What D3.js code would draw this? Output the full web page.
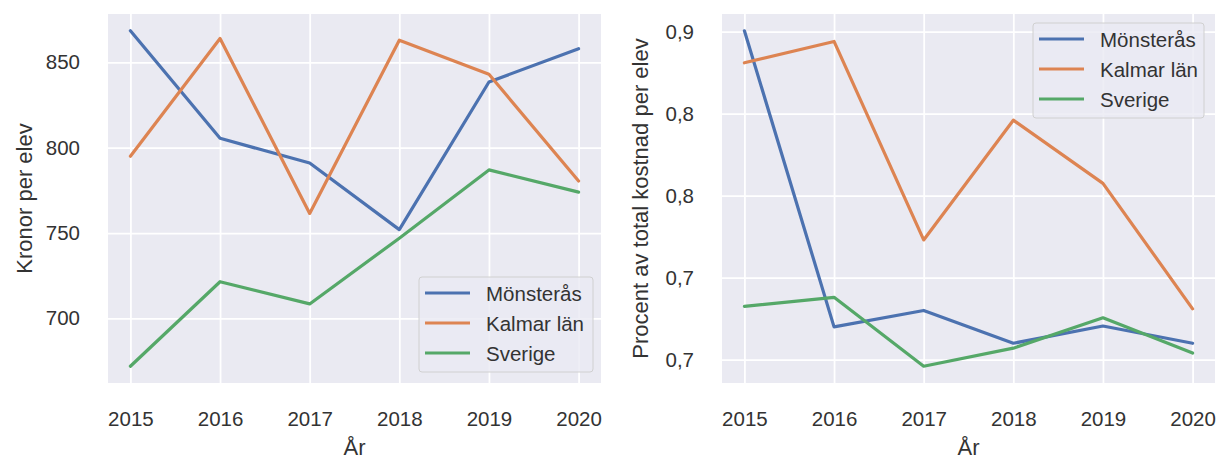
<!DOCTYPE html>
<html>
<head>
<meta charset="utf-8">
<script src="https://cdn.jsdelivr.net/npm/d3@7"></script>
<style>
  body { margin: 0; background: #fff; }
  text { font-family: "Liberation Sans", Arial, sans-serif; fill: #333; }
</style>
</head>
<body>
<div id="chart"></div>
<script>
// data
var years = [2015, 2016, 2017, 2018, 2019, 2020];
var seriesNames = ["Mönsterås", "Kalmar län", "Sverige"];
var colors = ["#4C72B0", "#DD8452", "#55A868"];

var kronorMonsteras = [868.5, 805.5, 791, 752, 838.5, 858];
var kronorKalmar = [795, 864, 761.5, 863, 843, 780.5];
var kronorSverige = [672, 721.5, 708.5, 747, 787, 774];

var procentMonsteras = [0.9005, 0.720, 0.730, 0.710, 0.7205, 0.710];
var procentKalmar = [0.881, 0.894, 0.773, 0.846, 0.8075, 0.731];
var procentSverige = [0.7325, 0.738, 0.696, 0.707, 0.7255, 0.704];

var kronorTicks = [700, 750, 800, 850];
var procentTicks = [0.70, 0.75, 0.80, 0.85, 0.90];
var procentTickLabels = ["0,7", "0,7", "0,8", "0,8", "0,9"];

var W = 1216, H = 461;
var svg = d3.select("#chart").append("svg")
    .attr("width", W).attr("height", H);

function drawPanel(opts) {
    var g = svg.append("g");
    var x = d3.scaleLinear()
        .domain([2015 - 0.25, 2020 + 0.25])
        .range([opts.left, opts.right]);

    var all = d3.merge(opts.series);
    var ext = d3.extent(all);
    var pad = (ext[1] - ext[0]) * 0.05;
    var y = d3.scaleLinear()
        .domain([ext[0] - pad, ext[1] + pad])
        .range([opts.bottom, opts.top]);

    // background
    g.append("rect")
        .attr("x", opts.left).attr("y", opts.top)
        .attr("width", opts.right - opts.left)
        .attr("height", opts.bottom - opts.top)
        .attr("fill", "#EAEAF2");

    // grid lines
    var gx = g.append("g")
        .attr("transform", "translate(0," + opts.bottom + ")")
        .call(d3.axisBottom(x).tickValues(years).tickSize(-(opts.bottom - opts.top)).tickFormat(""));
    var gy = g.append("g")
        .attr("transform", "translate(" + opts.left + ",0)")
        .call(d3.axisLeft(y).tickValues(opts.ticks).tickSize(-(opts.right - opts.left)).tickFormat(""));
    [gx, gy].forEach(function(a) {
        a.select(".domain").remove();
        a.selectAll("line").attr("stroke", "#fff").attr("stroke-width", 1.8);
    });

    // tick labels
    var lx = g.append("g")
        .attr("transform", "translate(0," + opts.bottom + ")")
        .call(d3.axisBottom(x).tickValues(years).tickSize(0).tickPadding(28).tickFormat(d3.format("d")));
    var ly = g.append("g")
        .attr("transform", "translate(" + opts.left + ",0)")
        .call(d3.axisLeft(y).tickValues(opts.ticks).tickSize(0).tickPadding(28).tickFormat(opts.fmt));
    [lx, ly].forEach(function(a) {
        a.select(".domain").remove();
        a.selectAll("text").style("font-size", "20.5px").attr("fill", "#333")
            .style("font-family", "'Liberation Sans', Arial, sans-serif");
    });

    // lines
    var line = d3.line()
        .x(function(d, i) { return x(years[i]); })
        .y(function(d) { return y(d); });
    opts.series.forEach(function(s, i) {
        g.append("path")
            .datum(s)
            .attr("d", line)
            .attr("fill", "none")
            .attr("stroke", colors[i])
            .attr("stroke-width", 3.2)
            .attr("stroke-linecap", "round")
            .attr("stroke-linejoin", "round");
    });

    // axis labels
    g.append("text")
        .attr("transform", "translate(" + opts.ylabelX + "," + ((opts.top + opts.bottom) / 2) + ") rotate(-90)")
        .attr("text-anchor", "middle")
        .attr("dominant-baseline", "central")
        .style("font-size", "22px")
        .text(opts.ylabel);
    g.append("text")
        .attr("x", (opts.left + opts.right) / 2)
        .attr("y", 455)
        .attr("text-anchor", "middle")
        .style("font-size", "22px")
        .text("År");

    // legend
    var lg = g.append("g").attr("transform", "translate(" + opts.legX + "," + opts.legY + ")");
    lg.append("rect")
        .attr("width", opts.legW).attr("height", 95)
        .attr("rx", 3)
        .attr("fill", "#EAEAF2").attr("fill-opacity", 0.8)
        .attr("stroke", "#d0d0d0").attr("stroke-width", 1);
    seriesNames.forEach(function(n, i) {
        var ry = 16 + i * 30;
        lg.append("line")
            .attr("x1", 6).attr("x2", 51)
            .attr("y1", ry).attr("y2", ry)
            .attr("stroke", colors[i]).attr("stroke-width", 3.2);
        lg.append("text")
            .attr("x", 67).attr("y", ry)
            .attr("dominant-baseline", "central")
            .style("font-size", "20.5px")
            .text(n);
    });
}

drawPanel({
    left: 108, right: 601, top: 14, bottom: 383,
    series: [kronorMonsteras, kronorKalmar, kronorSverige],
    ticks: kronorTicks,
    fmt: d3.format("d"),
    ylabel: "Kronor per elev", ylabelX: 24,
    legX: 419, legY: 277, legW: 174
});

drawPanel({
    left: 722, right: 1215, top: 14, bottom: 383,
    series: [procentMonsteras, procentKalmar, procentSverige],
    ticks: procentTicks,
    fmt: function(d) { return procentTickLabels[procentTicks.indexOf(d)]; },
    ylabel: "Procent av total kostnad per elev", ylabelX: 640,
    legX: 1033, legY: 23, legW: 171
});
</script>
</body>
</html>
